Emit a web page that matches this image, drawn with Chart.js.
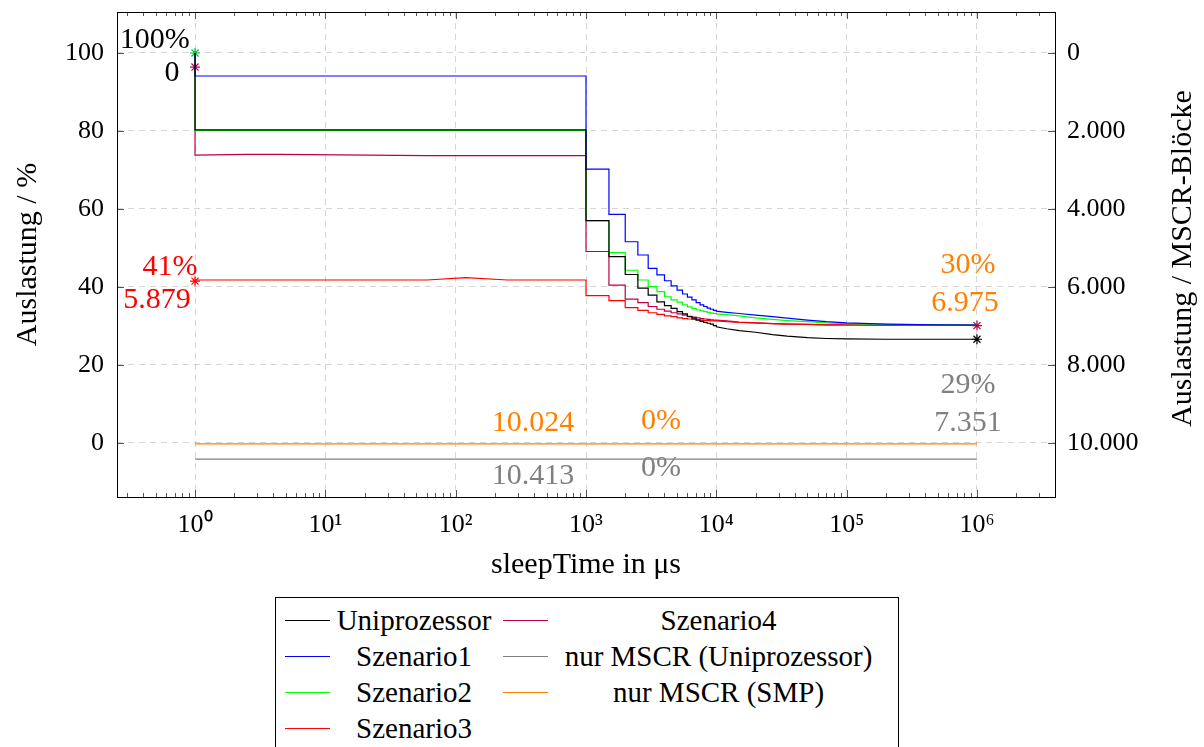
<!DOCTYPE html>
<html>
<head>
<meta charset="utf-8">
<script src="https://cdn.jsdelivr.net/npm/chart.js@4.4.0/dist/chart.umd.min.js"></script>
<style>
  body { margin: 0; background: #fff; }
  #wrap { position: relative; width: 1204px; height: 747px; overflow: hidden; }
  #legend {
    position: absolute; left: 275px; top: 597px; width: 624px; height: 170px;
    border: 1px solid #000; box-sizing: border-box; background: #fff;
    font: 29px 'Liberation Serif', serif; color: #000;
    display: grid; grid-template-columns: 213px 386px; column-gap: 5px;
    grid-template-rows: repeat(4, 36px); grid-auto-flow: column;
    padding: 4px 0 0 9px;
  }
  .item { display: flex; align-items: center; }
  .item .ln { width: 45px; height: 0; border-top: 1.3px solid; }
  .item .tx { flex: 1; text-align: center; white-space: nowrap; }
</style>
</head>
<body>
<div id="wrap">
  <canvas id="chart" width="1204" height="747"></canvas>
  <div id="legend"></div>
</div>
<script>
// x positions (µs)
const lowX  = [1, 1, 2.5, 4.5, 60, 120, 250, 500];
const stepX = [1000, 1500, 2000, 2500, 3000, 3500, 4000, 4500, 5000, 5500,
               6000, 6500, 7000, 7500, 8000, 8500, 9000, 9500, 10000];
const tailX = [12000, 15000, 20000, 27000, 35000, 50000, 70000, 100000, 200000, 500000, 1000000];

// Auslastung in % (left axis)
const uniLow   = [100, 80.3, 80.3, 80.3, 80.3, 80.3, 80.3, 80.3];
const uniStep  = [57.0, 47.8, 43.2, 39.7, 37.9, 36.2, 35.2, 34.5, 33.7, 33.1, 32.4, 32.0, 31.5, 31.2, 30.9, 30.7, 30.5, 30.1, 29.8];
const uniTail  = [29.3, 28.8, 28.4, 27.8, 27.4, 27.0, 26.8, 26.7, 26.6, 26.6, 26.6];

const sz1Low   = [100, 94.1, 94.1, 94.1, 94.1, 94.1, 94.1, 94.1];
const sz1Step  = [70.2, 58.6, 51.6, 48.2, 44.8, 43.1, 41.6, 40.3, 39.2, 38.2, 37.4, 36.7, 36.0, 35.4, 35.0, 34.6, 34.3, 34.0, 33.8];
const sz1Tail  = [33.5, 33.2, 32.8, 32.4, 32.0, 31.5, 31.1, 30.8, 30.5, 30.3, 30.2];

const sz2Low   = [100, 80.1, 80.1, 80.1, 80.1, 80.1, 80.1, 80.1];
const sz2Step  = [57.0, 48.8, 44.3, 41.8, 40.1, 38.8, 37.5, 36.7, 36.1, 35.4, 34.9, 34.5, 34.1, 33.9, 33.7, 33.5, 33.3, 33.2, 33.1];
const sz2Tail  = [32.9, 32.6, 32.1, 31.7, 31.4, 31.1, 30.8, 30.6, 30.4, 30.3, 30.2];

const sz3Low   = [41.8, 41.8, 41.8, 41.8, 41.8, 42.4, 41.8, 41.8];
const sz3Step  = [37.8, 36.5, 34.7, 34.0, 33.4, 33.0, 32.6, 32.4, 32.1, 31.9, 31.8, 31.7, 31.6, 31.5, 31.4, 31.4, 31.3, 31.3, 31.3];
const sz3Tail  = [31.1, 30.9, 30.8, 30.6, 30.5, 30.4, 30.3, 30.3, 30.2, 30.2, 30.2];

const sz4Low   = [96.4, 73.8, 74.0, 74.0, 73.7, 73.7, 73.7, 73.7];
const sz4Step  = [49.1, 40.5, 36.9, 36.0, 35.0, 34.3, 33.8, 33.4, 33.1, 32.8, 32.5, 32.3, 32.1, 31.9, 31.8, 31.7, 31.6, 31.5, 31.5];
const sz4Tail  = [31.3, 31.0, 30.8, 30.6, 30.5, 30.4, 30.3, 30.3, 30.2, 30.2, 30.2];

// MSCR-Blöcke (right axis)
const mscrX    = [1, 1000000];
const mscrUni  = [10413, 10413];
const mscrSmp  = [10024, 10024];

const labels = ['Uniprozessor', 'Szenario1', 'Szenario2', 'Szenario3', 'Szenario4',
                'nur MSCR (Uniprozessor)', 'nur MSCR (SMP)'];
const colors = ['#000000', '#0000ff', '#00ff00', '#ff0000', '#bf0040', '#808080', '#ff8000'];

const xTicks  = [1, 10, 100, 1000, 10000, 100000, 1000000];
const yTicks  = [0, 20, 40, 60, 80, 100];
const y2Ticks = [0, 2000, 4000, 6000, 8000, 10000];

// text nodes in the plot (left-axis units)
const notes = [
  {t: '100%',   x: 0.49,   y: 103.3, c: '#000000'},
  {t: '0',      x: 0.666,  y: 94.9,  c: '#000000'},
  {t: '41%',    x: 0.643,  y: 45.1,  c: '#ff0000'},
  {t: '5.879',  x: 0.511,  y: 36.7,  c: '#ff0000'},
  {t: '30%',    x: 853000, y: 45.6,  c: '#ff8000'},
  {t: '6.975',  x: 809000, y: 35.9,  c: '#ff8000'},
  {t: '29%',    x: 853000, y: 14.9,  c: '#808080'},
  {t: '7.351',  x: 853000, y: 5.1,   c: '#808080'},
  {t: '10.024', x: 392,    y: 5.1,   c: '#ff8000'},
  {t: '0%',     x: 3765,   y: 5.6,   c: '#ff8000'},
  {t: '10.413', x: 392,    y: -8.5,  c: '#808080'},
  {t: '0%',     x: 3765,   y: -6.4,  c: '#808080'}
];

function buildSeries(low, step, tail) {
  const pts = lowX.map((x, i) => ({x: x, y: low[i]}));
  let prev = low[low.length - 1];
  stepX.forEach((x, i) => {
    pts.push({x: x, y: prev});
    pts.push({x: x, y: step[i]});
    prev = step[i];
  });
  tailX.forEach((x, i) => pts.push({x: x, y: tail[i]}));
  return pts;
}

function lineSet(i, data, axis) {
  return {
    label: labels[i], data: data, yAxisID: axis || 'y',
    borderColor: colors[i], borderWidth: 1.2, pointRadius: 0, fill: false, tension: 0
  };
}

function markSet(color, pts) {
  return {
    label: '', data: pts, showLine: false, pointStyle: 'star',
    pointRadius: 5, borderColor: color, borderWidth: 1.2
  };
}

const datasets = [
  lineSet(0, buildSeries(uniLow, uniStep, uniTail)),
  lineSet(1, buildSeries(sz1Low, sz1Step, sz1Tail)),
  lineSet(2, buildSeries(sz2Low, sz2Step, sz2Tail)),
  lineSet(3, buildSeries(sz3Low, sz3Step, sz3Tail)),
  lineSet(4, buildSeries(sz4Low, sz4Step, sz4Tail)),
  lineSet(5, mscrX.map((x, i) => ({x: x, y: mscrUni[i]})), 'y2'),
  lineSet(6, mscrX.map((x, i) => ({x: x, y: mscrSmp[i]})), 'y2'),
  markSet('#00c040', [{x: 1, y: 100}]),
  markSet('#bf0040', [{x: 1, y: 96.4}, {x: 1000000, y: 30.1}]),
  markSet('#ff0000', [{x: 1, y: 41.5}]),
  markSet('#000000', [{x: 1000000, y: 26.6}])
];

const sup = ['⁰', '¹', '²', '³', '⁴', '⁵', '⁶'];
const fmtDe = v => String(v).replace(/\B(?=(\d{3})+(?!\d))/g, '.');

Chart.defaults.font.family = "'Liberation Serif', serif";
Chart.defaults.font.size = 26;
Chart.defaults.color = '#000';

const gridCol = 'rgba(0,0,0,0.16)';
const titleFont = {size: 30};

// no extra room for overhanging tick labels, the plot box is fixed
function noPad(s) {
  s.paddingTop = 0; s.paddingBottom = 0; s.paddingLeft = 0; s.paddingRight = 0;
}

const decor = {
  id: 'decor',
  afterDatasetsDraw(chart) {
    const ctx = chart.ctx, a = chart.chartArea;
    const sx = chart.scales.x, sy = chart.scales.y, sy2 = chart.scales.y2;
    ctx.save();
    // inside tick marks
    ctx.strokeStyle = '#555';
    ctx.lineWidth = 1;
    ctx.beginPath();
    for (let n = -1; n <= 6; n++) {
      for (let k = 1; k <= 9; k++) {
        const v = k * Math.pow(10, n);
        if (v < sx.min || v > sx.max) continue;
        const px = Math.round(sx.getPixelForValue(v)) + 0.5;
        const len = k === 1 ? 7 : 4;
        ctx.moveTo(px, a.bottom); ctx.lineTo(px, a.bottom - len);
        ctx.moveTo(px, a.top); ctx.lineTo(px, a.top + len);
      }
    }
    yTicks.forEach(v => {
      const py = Math.round(sy.getPixelForValue(v)) + 0.5;
      ctx.moveTo(a.left, py); ctx.lineTo(a.left + 7, py);
    });
    y2Ticks.forEach(v => {
      const py = Math.round(sy2.getPixelForValue(v)) + 0.5;
      ctx.moveTo(a.right, py); ctx.lineTo(a.right - 7, py);
    });
    ctx.stroke();
    // frame
    ctx.strokeStyle = '#000';
    ctx.strokeRect(Math.round(a.left) + 0.5, Math.round(a.top) + 0.5,
                   Math.round(a.right - a.left), Math.round(a.bottom - a.top));
    // text nodes
    ctx.font = "30px 'Liberation Serif', serif";
    ctx.textAlign = 'center';
    ctx.textBaseline = 'middle';
    notes.forEach(n => {
      ctx.fillStyle = n.c;
      ctx.fillText(n.t, sx.getPixelForValue(n.x), sy.getPixelForValue(n.y));
    });
    ctx.restore();
  },
  afterDraw(chart) {
    const ctx = chart.ctx, a = chart.chartArea;
    ctx.save();
    ctx.font = "30px 'Liberation Serif', serif";
    ctx.fillStyle = '#000';
    ctx.textAlign = 'center';
    ctx.textBaseline = 'middle';
    ctx.translate(1183, (a.top + a.bottom) / 2 + 4);
    ctx.rotate(-Math.PI / 2);
    ctx.fillText('Auslastung / MSCR-Blöcke', 0, 0);
    ctx.restore();
  }
};

new Chart(document.getElementById('chart'), {
  type: 'line',
  data: {datasets: datasets},
  options: {
    responsive: false,
    animation: false,
    layout: {padding: {top: 12, right: 0, bottom: 150, left: 0}},
    plugins: {legend: {display: false}, tooltip: {enabled: false}},
    scales: {
      x: {
        type: 'logarithmic', min: 0.252, max: 3.968e6,
        afterBuildTicks: s => { s.ticks = xTicks.map(v => ({value: v})); },
        afterFit: s => { s.height = 100; noPad(s); },
        ticks: {padding: 13, maxRotation: 0, autoSkip: false,
                callback: v => '10' + sup[Math.round(Math.log10(v))]},
        grid: {color: gridCol, drawTicks: false, lineWidth: 1},
        border: {display: false, dash: [6, 5]},
        title: {display: true, text: 'sleepTime in μs', font: titleFont, padding: {top: 0, bottom: 14}}
      },
      y: {
        position: 'left', min: -13.846, max: 110.51,
        afterBuildTicks: s => { s.ticks = yTicks.map(v => ({value: v})); },
        afterFit: s => { s.width = 117; noPad(s); },
        ticks: {padding: 13},
        grid: {color: gridCol, drawTicks: false, lineWidth: 1},
        border: {display: false, dash: [6, 5]},
        title: {display: true, text: 'Auslastung / %', font: titleFont, padding: {top: 10, bottom: 0}}
      },
      y2: {
        position: 'right', reverse: true, min: -1050, max: 11385,
        afterBuildTicks: s => { s.ticks = y2Ticks.map(v => ({value: v})); },
        afterFit: s => { s.width = 149; noPad(s); },
        ticks: {padding: 12, callback: v => fmtDe(v)},
        grid: {drawOnChartArea: false, drawTicks: false},
        border: {display: false}
      }
    }
  },
  plugins: [decor]
});

// legend below the plot, two columns like the original
const leg = document.getElementById('legend');
labels.forEach((name, i) => {
  const it = document.createElement('div');
  it.className = 'item';
  it.innerHTML = '<span class="ln" style="border-color:' + colors[i] + '"></span><span class="tx"></span>';
  it.querySelector('.tx').textContent = name;
  leg.appendChild(it);
});
</script>
</body>
</html>
